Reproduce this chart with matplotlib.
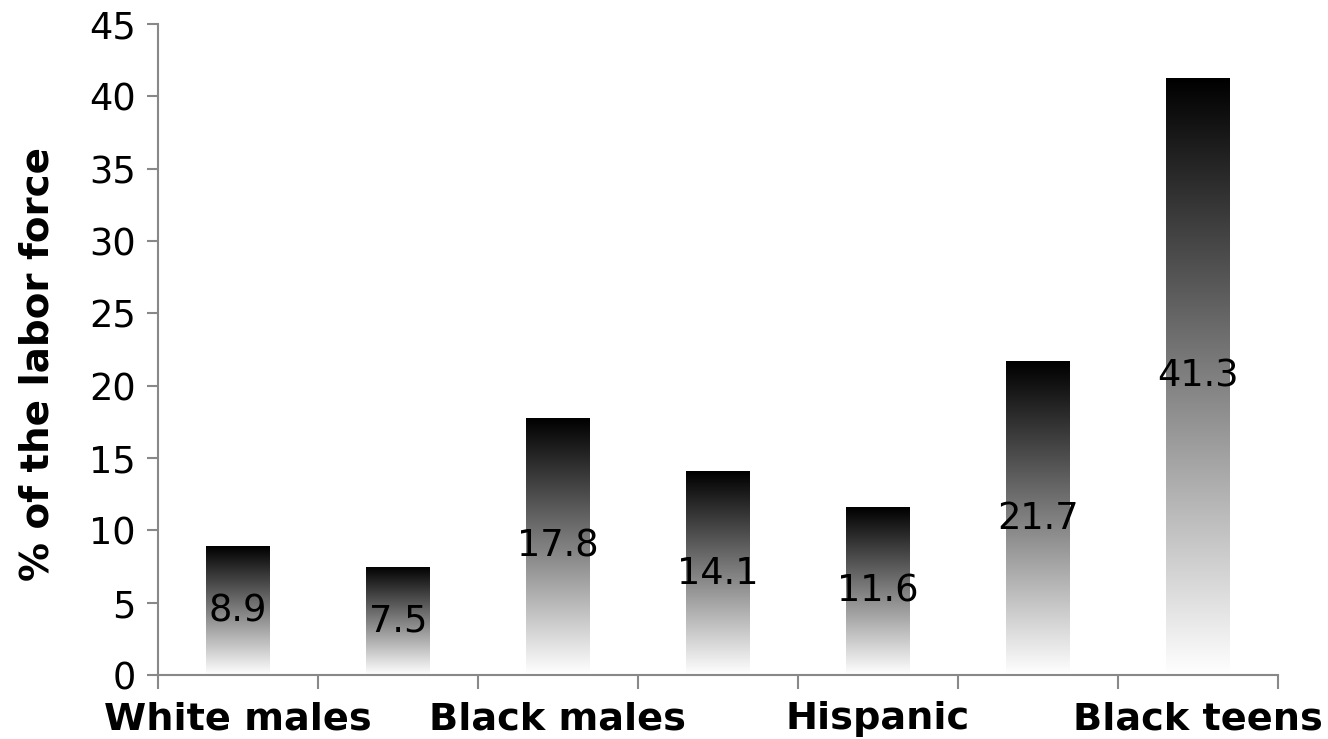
import matplotlib
matplotlib.use("Agg")
import matplotlib.pyplot as plt
import numpy as np

# data
groups = ["White males", "", "Black males", "", "Hispanic", "", "Black teens"]
rates = [8.9, 7.5, 17.8, 14.1, 11.6, 21.7, 41.3]
yticks = [0, 5, 10, 15, 20, 25, 30, 35, 40, 45]

plt.rcParams['font.family'] = ['DejaVu Sans']

fig = plt.figure(figsize=(13.28, 7.39), dpi=100)
ax = fig.add_axes([0.119, 0.0866, 0.8433, 0.8809])

x = np.arange(len(rates))
bars = ax.bar(x, rates, width=0.4, color='none', edgecolor='none')

# vertical gradient, white at bottom -> black at top
grad = np.linspace(1, 0, 256).reshape(-1, 1)
for b in bars:
    x0, w, h = b.get_x(), b.get_width(), b.get_height()
    im = ax.imshow(grad, cmap='gray', vmin=0, vmax=1, aspect='auto',
                   extent=[x0, x0 + w, h, 0], origin='upper', zorder=2)
    im.set_clip_path(b)

# value labels in the middle of the bar
for xi, v in zip(x, rates):
    ax.text(xi, v / 2, f"{v}", ha='center', va='center', fontsize=26.5,
            color='black', zorder=3)

ax.set_xlim(-0.5, len(rates) - 0.5)
ax.set_ylim(0, 45)
ax.set_yticks(yticks)
ax.set_yticklabels([str(t) for t in yticks], fontsize=26.5)

ax.set_xticks(x)
ax.set_xticklabels(groups, fontsize=27.5, fontweight='bold')
ax.set_xticks(np.arange(len(rates) + 1) - 0.5, minor=True)
ax.tick_params(axis='x', which='major', length=0, pad=19)
ax.tick_params(axis='x', which='minor', length=10, width=1.5, color='#888888')
ax.tick_params(axis='y', length=8, width=1.5, color='#888888', pad=8)

ax.set_ylabel("% of the labor force", fontsize=28, fontweight='bold')
ax.yaxis.set_label_coords(-0.091, 0.478)

for s in ['top', 'right']:
    ax.spines[s].set_visible(False)
for s in ['left', 'bottom']:
    ax.spines[s].set_color('#888888')
    ax.spines[s].set_linewidth(1.5)

fig.savefig("out.png", dpi=100)
